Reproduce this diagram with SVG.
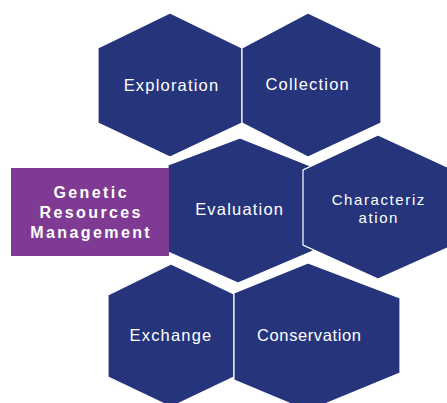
<svg xmlns="http://www.w3.org/2000/svg" width="447" height="403" viewBox="0 0 447 403">
  <style>
    .hex { fill: #26357b; stroke: #ffffff; stroke-width: 1.2; stroke-linejoin: miter; }
    .lbl { font-family: "Liberation Sans", Arial, sans-serif; font-size: 16.5px; fill: #ffffff; letter-spacing: 1.2px; text-anchor: middle; }
    .small { font-size: 15px; letter-spacing: 1.6px; }
    .title { font-family: "Liberation Sans", Arial, sans-serif; font-size: 16px; font-weight: bold; fill: #ffffff; letter-spacing: 2.4px; text-anchor: middle; }
  </style>
  <rect width="447" height="403" fill="#ffffff"/>

  <g id="exploration">
    <polygon class="hex" points="170,13 242,48 242,123 170,157 98,123 98,48"/>
    <text class="lbl" x="171.5" y="90.5">Exploration</text>
  </g>
  <g id="collection">
    <polygon class="hex" points="308,13 381,48 381,123 308,157 242,123 242,48"/>
    <text class="lbl" x="307.7" y="90">Collection</text>
  </g>
  <g id="evaluation">
    <polygon class="hex" points="240,138 313,167 313,251 238,283 168,252 168,165"/>
    <text class="lbl" x="239.7" y="215">Evaluation</text>
  </g>
  <g id="characterization">
    <polygon class="hex" points="378,135 454,170 454,245 378,279 303,245 303,170"/>
    <text class="lbl small" x="378.8" y="205">Characteriz</text>
    <text class="lbl small" x="378.8" y="222.5">ation</text>
  </g>
  <g id="exchange">
    <polygon class="hex" points="171,264 234,294 234,377 171,407 108,377 108,295"/>
    <text class="lbl" x="171" y="341">Exchange</text>
  </g>
  <g id="conservation">
    <polygon class="hex" points="308,263 400,298 400,373 308,411 234,380 234,293"/>
    <text class="lbl" x="309.3" y="341" style="letter-spacing:0.6px">Conservation</text>
  </g>

  <g id="genetic-resources-management">
    <rect x="11" y="168" width="158" height="88" fill="#7f3b93"/>
    <text class="title" x="91.2" y="198.3">Genetic</text>
    <text class="title" x="91.2" y="218.3">Resources</text>
    <text class="title" x="91.2" y="237.7">Management</text>
  </g>

  <g id="connectors"/>
</svg>
